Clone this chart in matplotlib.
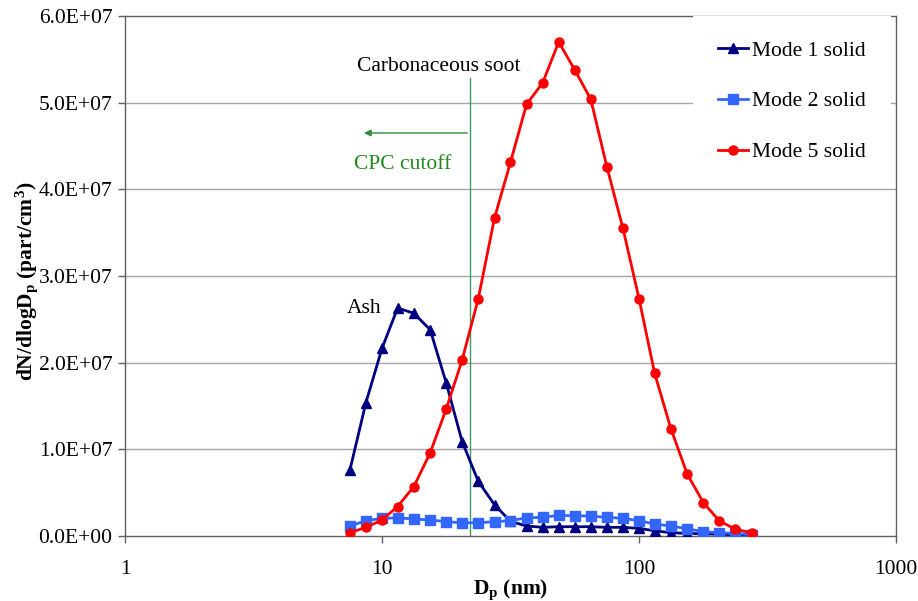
import matplotlib
matplotlib.use("Agg")
import matplotlib.pyplot as plt
from matplotlib.ticker import FixedLocator, FuncFormatter, NullLocator

plt.rcParams['font.family'] = ['Liberation Serif', 'DejaVu Serif']
plt.rcParams['mathtext.fontset'] = 'custom'
plt.rcParams['mathtext.rm'] = 'Liberation Serif'
plt.rcParams['mathtext.bf'] = 'Liberation Serif:bold'
plt.rcParams['mathtext.it'] = 'Liberation Serif:italic'

# Particle diameter channels (nm)
diameters = [7.5, 8.66, 10, 11.5, 13.3, 15.4, 17.8, 20.5, 23.7, 27.4, 31.6, 36.5, 42.2,
             48.7, 56.2, 64.9, 75, 86.6, 100, 115, 133, 154, 178, 205, 237, 274]

mode1 = [7.6e6, 1.54e7, 2.165e7, 2.63e7, 2.57e7, 2.38e7, 1.76e7, 1.09e7, 6.3e6, 3.6e6,
         1.7e6, 1.15e6, 1.0e6, 1.07e6, 1.07e6, 1.07e6, 1.0e6, 1.0e6, 0.88e6, 0.6e6,
         0.38e6, 0.3e6, 0.25e6, 0.2e6, 0.15e6, 0.1e6]

mode2 = [1.15e6, 1.77e6, 2.04e6, 2.1e6, 1.96e6, 1.85e6, 1.65e6, 1.53e6, 1.53e6, 1.65e6,
         1.77e6, 2.1e6, 2.15e6, 2.38e6, 2.35e6, 2.3e6, 2.15e6, 2.04e6, 1.77e6, 1.38e6,
         1.15e6, 0.84e6, 0.5e6, 0.38e6, 0.3e6, 0.15e6]

mode5 = [3.8e5, 1.0e6, 1.85e6, 3.4e6, 5.7e6, 9.6e6, 1.47e7, 2.03e7, 2.74e7, 3.67e7,
         4.31e7, 4.98e7, 5.23e7, 5.70e7, 5.38e7, 5.04e7, 4.26e7, 3.55e7, 2.74e7, 1.88e7,
         1.24e7, 7.15e6, 3.85e6, 1.77e6, 7.7e5, 3.8e5]

series_labels = ["Mode 1 solid", "Mode 2 solid", "Mode 5 solid"]
x_ticks = [1, 10, 100, 1000]
y_ticks = [0, 1e7, 2e7, 3e7, 4e7, 5e7, 6e7]
cpc_cutoff = 22.0

FS = 15.5
W, H = 918, 601
fig = plt.figure(figsize=(W / 100, H / 100), dpi=100)
ax = fig.add_axes([125 / W, 1 - 536 / H, (896 - 125) / W, (536 - 16) / H])

ax.set_xscale('log')
ax.set_xlim(1, 1000)
ax.set_ylim(0, 6e7)

for y in y_ticks[1:-1]:
    ax.axhline(y, color='#a6a6a6', lw=1.0, zorder=0)

ax.plot(diameters, mode1, color='#000080', lw=2.0, marker='^', ms=6.5,
        label=series_labels[0], zorder=3)
ax.plot(diameters, mode2, color='#3366FF', lw=2.0, marker='s', ms=6.5,
        label=series_labels[1], zorder=3)
ax.plot(diameters, mode5, color='#FF0000', lw=2.0, marker='o', ms=6.5,
        label=series_labels[2], zorder=4)

# CPC cutoff annotations
ax.plot([cpc_cutoff, cpc_cutoff], [0, 5.28e7], color='#3d9a6a', lw=1.0, zorder=2)
ax.annotate('', xy=(8.3, 4.65e7), xytext=(cpc_cutoff, 4.65e7),
            arrowprops=dict(arrowstyle='-|>', color='#2e8b3a', lw=1.0,
                            mutation_scale=10))
ax.text(12.0, 4.29e7, 'CPC cutoff', color='#1e8a1e', fontsize=FS,
        ha='center', va='center')
ax.text(16.6, 5.42e7, 'Carbonaceous soot', color='black', fontsize=FS,
        ha='center', va='center')
ax.text(8.5, 2.62e7, 'Ash', color='black', fontsize=FS, ha='center', va='center')

ax.xaxis.set_major_locator(FixedLocator(x_ticks))
ax.xaxis.set_minor_locator(NullLocator())
ax.xaxis.set_major_formatter(FuncFormatter(lambda v, p: f"{int(v)}"))
ax.yaxis.set_major_locator(FixedLocator(y_ticks))
ax.yaxis.set_major_formatter(FuncFormatter(lambda v, p: f"{v:.1E}"))

ax.tick_params(axis='both', direction='out', length=5, width=1, color='#606060',
               labelsize=FS)
ax.tick_params(axis='x', pad=12)
ax.tick_params(axis='y', pad=4)
for s in ax.spines.values():
    s.set_color('#606060')
    s.set_linewidth(1.0)

ax.set_xlabel(r'D$_\mathbf{p}$ (nm)', fontsize=FS, fontweight='bold')
ax.set_ylabel(r'dN/dlogD$_\mathbf{p}$ (part/cm$^\mathbf{3}$)', fontsize=FS,
              fontweight='bold')
ax.xaxis.set_label_coords(0.5, (536 - 578) / 520)
ax.yaxis.set_label_coords((40 - 125) / 771, 0.49)

leg = ax.legend(loc='upper left', bbox_to_anchor=(693 / W, 1 - 16 / H),
                bbox_transform=fig.transFigure, frameon=True, fancybox=False,
                edgecolor='none', facecolor='white', framealpha=1.0,
                fontsize=FS, labelspacing=1.42, handlelength=1.4,
                handletextpad=0.2, borderpad=1.15, borderaxespad=0)
leg.set_zorder(5)

fig.savefig('out.png', dpi=100)
